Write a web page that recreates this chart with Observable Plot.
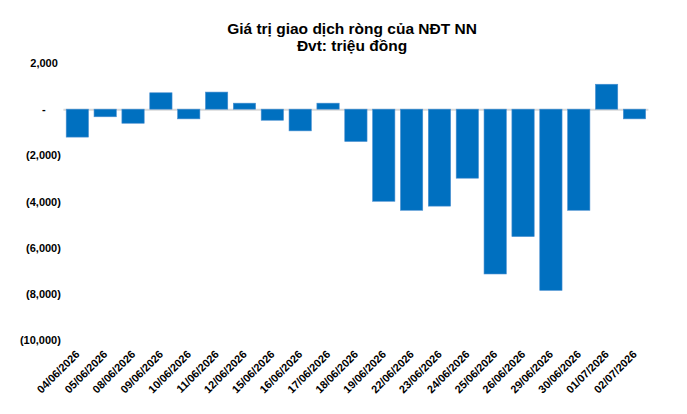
<!DOCTYPE html>
<html>
<head>
<meta charset="utf-8">
<script src="https://cdn.jsdelivr.net/npm/d3@7"></script>
<script src="https://cdn.jsdelivr.net/npm/@observablehq/plot@0.6"></script>
<style>
  html, body { margin: 0; padding: 0; background: #fff; }
  body { width: 687px; height: 414px; overflow: hidden; font-family: "Liberation Sans", Arial, sans-serif; }
  #title { width: 687px; box-sizing: border-box; padding-top: 20px; padding-left: 17px; text-align: center;
           font-weight: bold; font-size: 15.5px; line-height: 17px; color: #000; height: 54px; }
  #chart svg { display: block; }
</style>
</head>
<body>
<div id="title">Giá trị giao dịch ròng của NĐT NN<br>Đvt: triệu đồng</div>
<div id="chart"></div>
<script>
const dates = ["04/06/2026","05/06/2026","08/06/2026","09/06/2026","10/06/2026","11/06/2026","12/06/2026",
  "15/06/2026","16/06/2026","17/06/2026","18/06/2026","19/06/2026","22/06/2026","23/06/2026","24/06/2026",
  "25/06/2026","26/06/2026","29/06/2026","30/06/2026","01/07/2026","02/07/2026"];
const values = [-1210, -330, -610, 710, -420, 740, 260, -480, -940, 260, -1400, -3990, -4380, -4200, -2990,
  -7140, -5520, -7850, -4380, 1080, -420];
const yTicks = [2000, 0, -2000, -4000, -6000, -8000, -10000];

const data = dates.map((d, i) => ({date: d, value: values[i]}));
const nb = "\u00a0";
const fmt = v => v === 0 ? "-" + nb.repeat(5)
  : v < 0 ? "(" + d3.format(",")(-v) + ")"
  : d3.format(",")(v) + nb;

const chart = Plot.plot({
  width: 687,
  height: 360,
  marginTop: 9,
  marginBottom: 74,
  marginLeft: 63.4,
  marginRight: 38.6,
  style: {fontFamily: "'Liberation Sans', Arial, sans-serif", fontSize: "11px", fontWeight: "bold", color: "#000", background: "#fff"},
  x: {domain: dates, paddingInner: 0.2, paddingOuter: 0.1, round: false, label: null},
  y: {domain: [-10000, 2000], label: null},
  marks: [
    Plot.ruleY([0], {stroke: "#d9d9d9", strokeWidth: 2}),
    Plot.barY(data, {x: "date", y: "value", fill: "#0070C0", stroke: "#4a8fd0", strokeWidth: 0.6}),
    Plot.axisY(yTicks, {tickSize: 0, tickPadding: 3, tickFormat: fmt, fill: "#000"}),
    Plot.axisX({tickRotate: -45, tickSize: 0, tickPadding: 12, fill: "#000"})
  ]
});
document.getElementById("chart").appendChild(chart);
</script>
</body>
</html>
